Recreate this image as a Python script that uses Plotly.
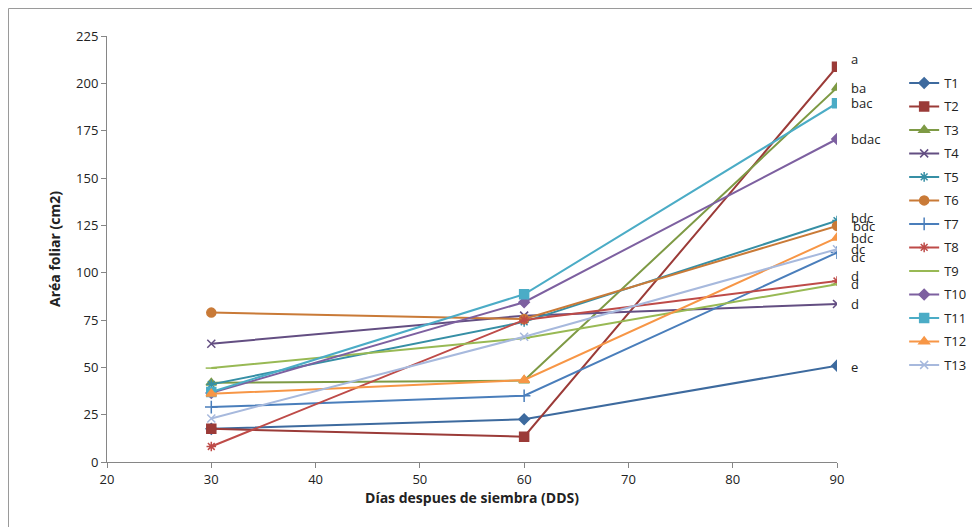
import plotly.graph_objects as go

# ---- data ----
dias = [30, 60, 90]
tratamientos = ["T1", "T2", "T3", "T4", "T5", "T6", "T7", "T8", "T9", "T10", "T11", "T12", "T13"]
T1 = [17.5, 22.6, 50.9]
T2 = [17.5, 13.4, 208.8]
T3 = [41.8, 43.0, 197.7]
T4 = [62.5, 77.3, 83.5]
T5 = [41.0, 74.0, 127.5]
T6 = [78.9, 75.5, 124.7]
T7 = [29.0, 35.0, 110.6]
T8 = [8.2, 75.0, 95.6]
T9 = [49.6, 65.4, 93.9]
T10 = [36.5, 84.4, 170.6]
T11 = [37.0, 88.6, 189.5]
T12 = [36.0, 43.3, 118.5]
T13 = [23.0, 66.2, 112.4]
letras = ["e", "a", "ba", "d", "bdc", "bdc", "dc", "d", "d", "bdac", "bac", "bdc", "dc"]
y_ticks = [0, 25, 50, 75, 100, 125, 150, 175, 200, 225]
x_ticks = [20, 30, 40, 50, 60, 70, 80, 90]

series = [T1, T2, T3, T4, T5, T6, T7, T8, T9, T10, T11, T12, T13]

# ---- style ----
colors = ["#3D6A9E", "#9B3B38", "#7E9A45", "#634E82", "#368FA5", "#C97A37",
          "#4A7EBB", "#BE4B48", "#98B954", "#7D60A0", "#4BACC6", "#F79646", "#A7B9DD"]
symbols = ["diamond", "square", "triangle-up", "x-thin-open", "asterisk-open", "circle",
           "cross-thin-open", "asterisk-open", "line-ew-open", "diamond", "square", "triangle-up", "x-thin-open"]
sizes = [8, 9, 9, 8, 8, 9, 9, 8, 8, 8, 9, 9, 8]
label_yshift = [-1, 8, 0, 0, 3, 0, -4, 5, 0, 0, 0, 0, 0]
label_xshift = [12, 12, 12, 12, 12, 14, 12, 12, 12, 12, 12, 12, 12]
FONT = "Open Sans"

W, H = 972, 527
L, R, T, B = 107, 135, 36, 65
PW, PH = W - L - R, H - T - B

fig = go.Figure()
for i, (name, vals) in enumerate(zip(tratamientos, series)):
    fig.add_trace(go.Scatter(
        x=dias, y=vals, name=name, mode="lines+markers",
        legendgroup=name,
        line=dict(color=colors[i], width=2),
        marker=dict(symbol=symbols[i], size=sizes[i], color=colors[i],
                    line=dict(color=colors[i], width=1.5)),
    ))

# letter labels at the last point of each series
for i, vals in enumerate(series):
    fig.add_annotation(x=dias[-1], y=vals[-1], text=letras[i], showarrow=False,
                       xanchor="left", yanchor="middle",
                       xshift=label_xshift[i], yshift=label_yshift[i],
                       font=dict(family=FONT, size=13, color="#222222"))

# outer chart border (right and bottom edges lie outside the visible area)
fig.add_shape(type="rect", xref="paper", yref="paper",
              x0=(8.5 - L) / PW, x1=(W + 20 - L) / PW,
              y0=(-B - 20) / PH, y1=(PH + T - 8.5) / PH,
              line=dict(color="#9a9a9a", width=1), fillcolor="rgba(0,0,0,0)")

fig.update_layout(
    width=W, height=H,
    margin=dict(l=L, r=R, t=T, b=B, autoexpand=False),
    paper_bgcolor="white", plot_bgcolor="white",
    font=dict(family=FONT, size=13, color="#222222"),
    showlegend=True,
    legend=dict(x=1.092, y=0.925, xanchor="left", yanchor="top",
                font=dict(family=FONT, size=13, color="#222222"),
                tracegroupgap=3.6, bgcolor="rgba(0,0,0,0)"),
    xaxis=dict(range=[20, 90], tickvals=x_ticks, ticks="outside", ticklen=5,
               tickcolor="#868686", showline=True, linecolor="#868686", linewidth=1,
               showgrid=False, zeroline=False,
               tickfont=dict(family=FONT, size=13),
               title=dict(text="<b>Días despues de siembra (DDS)</b>",
                          font=dict(family=FONT, size=14), standoff=6)),
    yaxis=dict(range=[0, 225], tickvals=y_ticks, ticks="outside", ticklen=5,
               tickcolor="#868686", showline=True, linecolor="#868686", linewidth=1,
               showgrid=False, zeroline=False,
               tickfont=dict(family=FONT, size=13),
               title=dict(text="<b>Aréa foliar (cm2)</b>",
                          font=dict(family=FONT, size=14), standoff=12)),
)

fig.write_html("out.html",
               config={"displayModeBar": False},
               post_script="document.body.style.margin='0';document.body.style.overflow='hidden';")
